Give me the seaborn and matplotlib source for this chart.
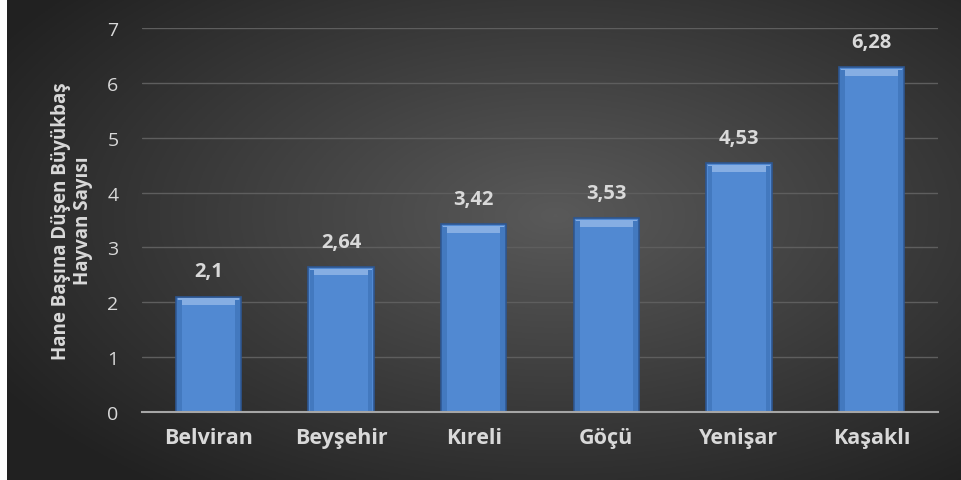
import numpy as np
import pandas as pd
import matplotlib.pyplot as plt
import seaborn as sns

# data
villages = ["Belviran", "Beyşehir", "Kıreli", "Göçü", "Yenişar", "Kaşaklı"]
animals_per_house = [2.1, 2.64, 3.42, 3.53, 4.53, 6.28]
value_labels = ["2,1", "2,64", "3,42", "3,53", "4,53", "6,28"]
y_ticks = [0, 1, 2, 3, 4, 5, 6, 7]

df = pd.DataFrame({"Köy": villages, "Sayı": animals_per_house})

sns.set_theme(style="dark")
plt.rcParams["font.family"] = ["Open Sans", "DejaVu Sans"]

W, H = 961, 481
fig = plt.figure(figsize=(W / 100, H / 100), dpi=100)
fig.patch.set_facecolor("white")

# dark radial background, white strip on the far left
bg = fig.add_axes([7 / W, 0, 1 - 7 / W, 1])
yy, xx = np.mgrid[-1:1:200j, -1:1:400j]
r = np.sqrt(((xx - 0.15) * 0.95) ** 2 + ((yy + 0.1) * 0.9) ** 2)
shade = np.clip(0.35 - 0.17 * r, 0.13, 0.35)
bg.imshow(np.dstack([shade] * 3), aspect="auto", extent=[0, 1, 0, 1])
bg.set_axis_off()

ax = fig.add_axes([142 / W, (H - 413) / H, 796 / W, 384 / H])
ax.set_facecolor("none")
sns.barplot(data=df, x="Köy", y="Sayı", color="#5189d2", width=0.49,
            edgecolor="#2d5690", linewidth=1.2, saturation=1, ax=ax, zorder=3)

# simple bevel: light top strip, slightly darker sides
for p in ax.patches:
    x0, w, h = p.get_x(), p.get_width(), p.get_height()
    ax.add_patch(plt.Rectangle((x0 + w * 0.03, h - 0.15), w * 0.94, 0.12,
                               color="#86aee3", lw=0, zorder=4))
    ax.add_patch(plt.Rectangle((x0 + w * 0.02, 0), w * 0.07, h - 0.05,
                               color="#4379bf", lw=0, zorder=4))
    ax.add_patch(plt.Rectangle((x0 + w * 0.91, 0), w * 0.07, h - 0.05,
                               color="#4379bf", lw=0, zorder=4))

for i, (v, lab) in enumerate(zip(animals_per_house, value_labels)):
    ax.text(i, v + 0.28, lab, ha="center", va="bottom", color="#d9d9d9",
            fontsize=14.5, fontweight="bold")

ax.set_ylim(0, 7)
ax.set_xlim(-0.5, 5.5)
ax.set_yticks(y_ticks)
ax.set_yticklabels([str(t) for t in y_ticks])
ax.yaxis.grid(True, color="#5e5e5e", linewidth=1)
ax.xaxis.grid(False)
ax.set_axisbelow(True)
for s in ["top", "right", "left"]:
    ax.spines[s].set_visible(False)
ax.spines["bottom"].set_color("#a6a6a6")
ax.spines["bottom"].set_linewidth(1.5)
ax.spines["bottom"].set_zorder(5)

ax.tick_params(axis="y", colors="#d9d9d9", labelsize=14, length=0, pad=17)
ax.tick_params(axis="x", colors="#d9d9d9", labelsize=15.5, length=0, pad=11)
for t in ax.get_xticklabels():
    t.set_fontweight("bold")

ax.set_xlabel("")
ax.set_ylabel("Hane Başına Düşen Büyükbaş\nHayvan Sayısı", color="#d9d9d9",
              fontsize=13.5, fontweight="bold", labelpad=10, linespacing=1.15)

fig.savefig("out.png", dpi=100)
